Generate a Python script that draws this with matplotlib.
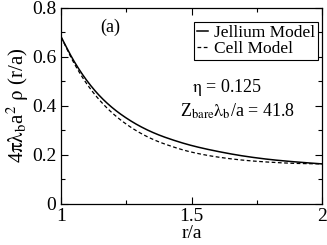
import numpy as np
import matplotlib
matplotlib.use("Agg")
import matplotlib.pyplot as plt
from matplotlib.ticker import MultipleLocator

plt.rcParams['font.family'] = ['Liberation Serif', 'DejaVu Serif']
plt.rcParams['mathtext.fontset'] = 'stix'

# values
r = [1.0, 1.05, 1.1, 1.15, 1.2, 1.25, 1.3, 1.35, 1.4, 1.5, 1.6, 1.7, 1.8, 1.9, 2.0]
jellium = [0.680, 0.580, 0.500, 0.437, 0.388, 0.349, 0.317, 0.291, 0.270,
           0.237, 0.213, 0.194, 0.180, 0.170, 0.162]
cell = [0.680, 0.572, 0.486, 0.419, 0.366, 0.324, 0.290, 0.263, 0.242,
        0.210, 0.190, 0.177, 0.169, 0.164, 0.162]

# smooth curve through the read points (monotone cubic)
def smooth(x, y, n=300):
    x = np.asarray(x); y = np.asarray(y)
    xs = np.linspace(x[0], x[-1], n)
    h = np.diff(x); d = np.diff(y) / h
    m = np.zeros_like(y)
    m[0], m[-1] = d[0], d[-1]
    for i in range(1, len(x) - 1):
        if d[i-1] * d[i] > 0:
            w1 = 2*h[i] + h[i-1]; w2 = h[i] + 2*h[i-1]
            m[i] = (w1 + w2) / (w1/d[i-1] + w2/d[i])
    idx = np.clip(np.searchsorted(x, xs) - 1, 0, len(x) - 2)
    t = (xs - x[idx]) / h[idx]
    h00 = 2*t**3 - 3*t**2 + 1; h10 = t**3 - 2*t**2 + t
    h01 = -2*t**3 + 3*t**2; h11 = t**3 - t**2
    ys = h00*y[idx] + h10*h[idx]*m[idx] + h01*y[idx+1] + h11*h[idx]*m[idx+1]
    return xs, ys

fig = plt.figure(figsize=(3.27, 2.45), dpi=100)
ax = fig.add_axes([0.187, 0.169, 0.798, 0.800])

xj, yj = smooth(r, jellium)
xc, yc = smooth(r, cell)
ax.plot(xj, yj, color='black', lw=1.1, label='Jellium Model')
ax.plot(xc, yc, color='black', lw=0.9, ls=(0, (3, 2)), label='Cell Model')

ax.set_xlim(1, 2)
ax.set_ylim(0, 0.8)
ax.xaxis.set_minor_locator(MultipleLocator(0.25))
ax.yaxis.set_minor_locator(MultipleLocator(0.1))
ax.set_xticks([1, 1.5, 2])
ax.set_xticklabels(['1', '1.5', '2'])
ax.set_yticks([0, 0.2, 0.4, 0.6, 0.8])
ax.set_yticklabels(['0', '0.2', '0.4', '0.6', '0.8'])
ax.tick_params(which='both', direction='in', top=True, right=True, labelsize=14)
ax.tick_params(which='major', length=5, width=0.8)
ax.tick_params(which='minor', length=3, width=0.8)
ax.tick_params(axis='x', pad=3)
for s in ax.spines.values():
    s.set_linewidth(0.9)

ax.set_xlabel('r/a', fontsize=14, labelpad=0)
ax.set_ylabel(r'4$\mathrm{\pi\lambda_b}$a$^2$ $\mathrm{\rho}$ (r/a)', fontsize=15, labelpad=1)

leg = ax.legend(loc='upper right', bbox_to_anchor=(0.985, 0.925), fontsize=12.5,
                handlelength=0.6, handletextpad=0.4, borderpad=0.15,
                labelspacing=0.0, fancybox=False, framealpha=1, borderaxespad=0)
leg.get_frame().set_edgecolor('black')
leg.get_frame().set_linewidth(0.8)

ax.text(1.19, 0.72, '(a)', fontsize=13, ha='center', va='center')
ax.text(1.635, 0.475, r'$\mathrm{\eta}$ = 0.125', fontsize=13, ha='center', va='center')
ax.text(1.675, 0.375, r'Z$_{\rm bare}\mathrm{\lambda_b}$/a = 41.8', fontsize=13,
        ha='center', va='center')

fig.savefig('out.png', dpi=100)
